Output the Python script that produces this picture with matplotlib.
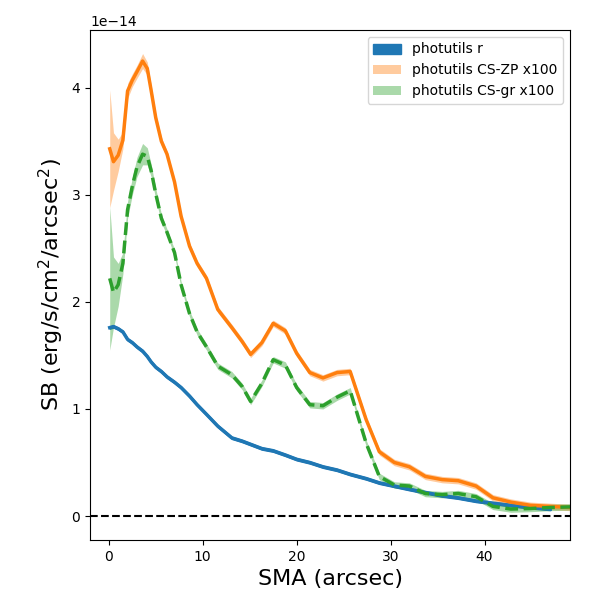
import numpy as np
import matplotlib
matplotlib.use("Agg")
import matplotlib.pyplot as plt

# semi-major axis grid (arcsec)
sma = np.array([0.1, 0.5, 1.0, 1.5, 2.0, 2.5, 3.0, 3.6, 4.1, 4.5, 5.0, 5.6, 6.2, 7.0,
                7.7, 8.6, 9.4, 10.4, 11.6, 13.1, 14.2, 15.1, 16.3, 17.5, 18.8, 20.0,
                21.4, 22.8, 24.3, 25.7, 27.4, 28.8, 30.4, 32.0, 33.7, 35.5, 37.2,
                39.1, 40.9, 42.8, 44.9, 47.0, 49.1])

# surface brightness profiles, in units of 1e-14
sb_r = np.array([1.76, 1.77, 1.75, 1.72, 1.65, 1.62, 1.58, 1.54, 1.49, 1.44, 1.39, 1.35,
                 1.30, 1.25, 1.20, 1.12, 1.04, 0.95, 0.84, 0.73, 0.70, 0.67, 0.63, 0.61,
                 0.57, 0.53, 0.50, 0.46, 0.43, 0.39, 0.35, 0.31, 0.28, 0.25, 0.22, 0.19,
                 0.17, 0.14, 0.12, 0.10, 0.08, 0.065])
sb_zp = np.array([3.43, 3.31, 3.37, 3.51, 3.97, 4.07, 4.15, 4.25, 4.18, 3.98, 3.72, 3.50,
                  3.38, 3.12, 2.80, 2.52, 2.36, 2.22, 1.93, 1.76, 1.63, 1.51, 1.62, 1.80,
                  1.73, 1.52, 1.34, 1.29, 1.34, 1.35, 0.90, 0.60, 0.50, 0.46, 0.37, 0.34,
                  0.33, 0.28, 0.17, 0.13, 0.10, 0.09, 0.08])
sb_gr = np.array([2.22, 2.09, 2.16, 2.36, 2.86, 3.08, 3.26, 3.38, 3.36, 3.23, 3.01, 2.78,
                  2.65, 2.46, 2.16, 1.89, 1.72, 1.58, 1.40, 1.32, 1.21, 1.07, 1.24, 1.46,
                  1.41, 1.20, 1.04, 1.03, 1.11, 1.17, 0.68, 0.37, 0.29, 0.28, 0.21, 0.20,
                  0.21, 0.18, 0.09, 0.065, 0.07, 0.08, 0.085])

# uncertainties, same units
err_r = np.full(len(sb_r), 0.01)
err_zp = np.array([0.55, 0.27, 0.15, 0.08, 0.07, 0.06, 0.06, 0.07, 0.06, 0.05, 0.04, 0.04]
                  + [0.03] * 31)
err_gr = np.array([0.67, 0.33, 0.20, 0.10, 0.08, 0.08, 0.09, 0.10, 0.08, 0.06, 0.05, 0.04]
                  + [0.03] * 31)

unit = 1e-14

fig = plt.figure(figsize=(6, 6), dpi=100)
ax = fig.add_axes([0.15, 0.1, 0.8, 0.85])

x_r = sma[:len(sb_r)]
ax.fill_between(x_r, (sb_r - err_r) * unit, (sb_r + err_r) * unit, color="C0",
                label="photutils r")
ax.plot(x_r, sb_r * unit, color="C0", lw=2.5)

ax.fill_between(sma, (sb_zp - err_zp) * unit, (sb_zp + err_zp) * unit, color="C1",
                alpha=0.4, lw=0, label="photutils CS-ZP x100")
ax.plot(sma, sb_zp * unit, color="C1", lw=2.5)

ax.fill_between(sma, (sb_gr - err_gr) * unit, (sb_gr + err_gr) * unit, color="C2",
                alpha=0.4, lw=0, label="photutils CS-gr x100")
ax.plot(sma, sb_gr * unit, color="C2", lw=2.5, ls="--")

ax.axhline(0, color="k", ls="--", lw=1.5)

ax.set_xlim(-2, 49.1)
ax.set_ylim(-0.224e-14, 4.54e-14)
ax.set_xlabel("SMA (arcsec)", fontsize=16)
ax.set_ylabel("SB (erg/s/cm$^2$/arcsec$^2$)", fontsize=16)
ax.legend(loc="upper right")

fig.savefig("out.png")
